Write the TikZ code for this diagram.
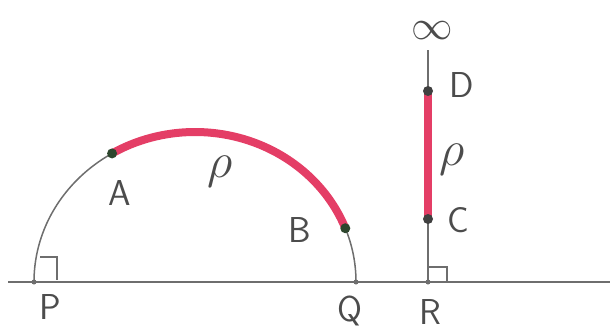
\documentclass[tikz,border=0pt]{standalone}
\usepackage{amsmath}
\usetikzlibrary{calc}
\definecolor{arcred}{RGB}{228,62,102}
\definecolor{pencil}{RGB}{110,110,110}
\definecolor{dotgreen}{RGB}{45,70,45}

\begin{document}
\begin{tikzpicture}[x=0.5pt,y=0.5pt,line width=0.75pt,
  lbl/.style={text=black!70,font=\sffamily\fontsize{18}{20}\selectfont,inner sep=0pt}]
  \useasboundingbox (0,0) rectangle (610,333);
  % lignes de base
  \coordinate (L) at (8,51); \coordinate (E) at (610,51);
  \coordinate (O) at (195,51);
  \coordinate (P) at (34,51); \coordinate (Q) at (356,51); \coordinate (R) at (428,51);
  \coordinate (A) at ($(O)+(121:161 and 150)$); \coordinate (B) at ($(O)+(21:161 and 150)$);
  \coordinate (D) at (428,242); \coordinate (C) at (428,114); \coordinate (T) at (428,283);
  \draw[pencil] (L)--(E);
  \draw[pencil] (Q) arc[start angle=0,end angle=180,x radius=161,y radius=150];
  \draw[pencil] (R)--(T);
  % angles droits
  \draw[pencil,line width=0.6pt] (40,76)--(57,76)--(57,53);
  \draw[pencil,line width=0.6pt] (428,66)--(447,66)--(447,51);
  % segments rouges
  \draw[arcred,line width=4pt,line cap=round] (A) arc[start angle=121,end angle=21,x radius=161,y radius=150];
  \draw[arcred,line width=4pt,line cap=round] (C)--(D);
  \fill[pencil] (P) circle(2.5); \fill[pencil] (Q) circle(2.5); \fill[pencil] (R) circle(2.5);
  \fill[dotgreen] (A) circle(5); \fill[dotgreen] (B) circle(5);
  \fill[black!75] (C) circle(5); \fill[black!75] (D) circle(5);
  \node[lbl] (lA) at (120,140){A}; \node[lbl] (lB) at (300,103){B};
  \node[lbl,font=\fontsize{23}{26}\selectfont] (rhoL) at (220,161){$\rho$};
  \node[lbl] (lP) at (50,26){P}; \node[lbl] (lQ) at (350,22){Q}; \node[lbl] (lR) at (430,21){R};
  \node[lbl] (lD) at (462,248){D}; \node[lbl] (lC) at (458,113){C};
  \node[lbl,font=\fontsize{23}{26}\selectfont] (rhoR) at (452,173){$\rho$};
  \node[lbl,font=\fontsize{22}{24}\selectfont] (inf) at (432,302){$\infty$};
\end{tikzpicture}
\end{document}
